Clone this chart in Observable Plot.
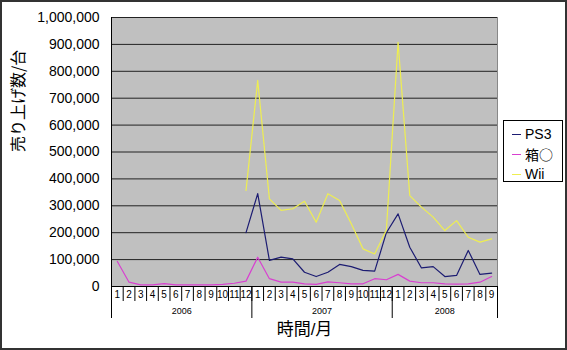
<!DOCTYPE html>
<html><head><meta charset="utf-8">
<script src="https://cdn.jsdelivr.net/npm/d3@7"></script>
<script src="https://cdn.jsdelivr.net/npm/@observablehq/plot@0.6"></script>
<style>
body{margin:0;background:#fff;}
#wrap{position:relative;width:567px;height:350px;overflow:hidden;font-family:"Liberation Sans","Noto Sans CJK JP",sans-serif;background:#fff;}
#border{position:absolute;left:0;top:0;width:567px;height:350px;box-sizing:border-box;border:2px solid #333;pointer-events:none;}
#legend{position:absolute;left:503px;top:120px;width:60px;height:62px;box-sizing:border-box;border:1px solid #000;background:#fff;font-size:14px;padding-top:3px;}
#legend .row{height:20px;line-height:20px;position:relative;}
#legend .sw{position:absolute;left:8px;top:10px;width:9px;height:0;border-top:1.2px solid;}
#legend .lb{position:absolute;left:21px;top:0;color:#000;font-family:"Liberation Sans","Noto Sans CJK JP",sans-serif;}
#legend .lb.cjk{font-family:"Noto Sans CJK JP",sans-serif;font-size:14px;}
</style>
</head><body>
<div id="wrap"><div id="chart"></div><div id="legend"></div><div id="border"></div></div>
<script>
// Month tick labels, Jan 2006 .. Sep 2008
const months = ["1","2","3","4","5","6","7","8","9","10","11","12",
                "1","2","3","4","5","6","7","8","9","10","11","12",
                "1","2","3","4","5","6","7","8","9"];
const years = ["2006","2007","2008"];
const names = ["PS3","箱○","Wii"];
const colors = ["#1c1c72","#d840d0","#eeee50"];
const yTicks = [0,100000,200000,300000,400000,500000,600000,700000,800000,900000,1000000];

const ps3 = [null,null,null,null,null,null,null,null,null,null,null,
  200000,345000,97000,109000,103000,53000,37000,53000,82000,74000,60000,57000,
  200000,270000,146000,69000,74000,37000,41000,134000,45000,50000];
const box = [93000,16000,6000,6000,11000,6000,6000,6000,6000,8000,12000,20000,
  109000,29000,16000,16000,10000,8000,17000,14000,10000,10000,29000,25000,
  45000,20000,14000,14000,10000,9000,10000,16000,37000];
const wii = [null,null,null,null,null,null,null,null,null,null,null,
  357000,766000,326000,283000,289000,317000,239000,345000,320000,233000,140000,121000,
  210000,908000,338000,295000,258000,208000,245000,183000,165000,177000];

const series = [ps3, box, wii];
const data = [];
series.forEach((arr,k)=>arr.forEach((v,i)=>{ if(v!=null) data.push({name:names[k], i, v}); }));

const monthIdx = months.map((m,i)=>i);
const dividers = months.map((m,i)=>i-0.5).concat([months.length-0.5]);
const yearStarts = monthIdx.filter(i=>months[i]==="1");
const yearBounds = yearStarts.map(i=>i-0.5).concat([months.length-0.5]);
const yearCenters = yearStarts.map((s,j)=>((s-0.5)+yearBounds[j+1])/2);

const font = '"Liberation Sans","Noto Sans CJK JP",sans-serif';
const cjk = '"Noto Sans CJK JP",sans-serif';

const chart = Plot.plot({
  width:567, height:350,
  marginLeft:111, marginRight:70, marginTop:17, marginBottom:64,
  x:{domain:[-0.5, months.length-0.5], axis:null},
  y:{domain:[0,1000000], axis:null},
  color:{domain:names, range:colors},
  style:{fontFamily:font, background:"transparent", color:"#000"},
  marks:[
    Plot.frame({fill:"#c0c0c0", stroke:"#888"}),
    Plot.gridY({ticks:yTicks, stroke:"#222", strokeOpacity:1}),
    Plot.axisY({ticks:yTicks, tickFormat:d3.format(","), tickSize:0, tickPadding:12, fontSize:14, label:null}),
    Plot.axisX({ticks:dividers, tickSize:15, tickFormat:()=>"", label:null, stroke:"#000"}),
    Plot.axisX({ticks:yearBounds, tickSize:32, tickFormat:()=>"", label:null, stroke:"#000"}),
    Plot.axisX({ticks:monthIdx, tickSize:0, tickPadding:4, tickFormat:i=>months[i], fontSize:10, label:null}),
    Plot.axisX({ticks:yearCenters, tickSize:0, tickPadding:21, tickFormat:(d,j)=>years[j], fontSize:9, label:null}),
    Plot.ruleY([0], {stroke:"#000"}),
    Plot.ruleX([-0.5], {stroke:"#000"}),
    Plot.lineY(data, {x:"i", y:"v", z:"name", stroke:"name", strokeWidth:1.2}),
    Plot.text(["売り上げ数/台"], {frameAnchor:"left", dx:-93, rotate:-90, fontSize:16, fontFamily:cjk}),
    Plot.text(["時間/月"], {frameAnchor:"bottom", dy:48, fontSize:17, fontFamily:font})
  ]
});
document.getElementById("chart").appendChild(chart);

const lg = document.getElementById("legend");
names.forEach((n,k)=>{
  const r = document.createElement("div"); r.className="row";
  const s = document.createElement("div"); s.className="sw"; s.style.borderTopColor = colors[k];
  const t = document.createElement("div"); t.className = /[^\x00-\x7f]/.test(n) ? "lb cjk" : "lb"; t.textContent = n;
  r.appendChild(s); r.appendChild(t); lg.appendChild(r);
});
</script>
</body></html>
